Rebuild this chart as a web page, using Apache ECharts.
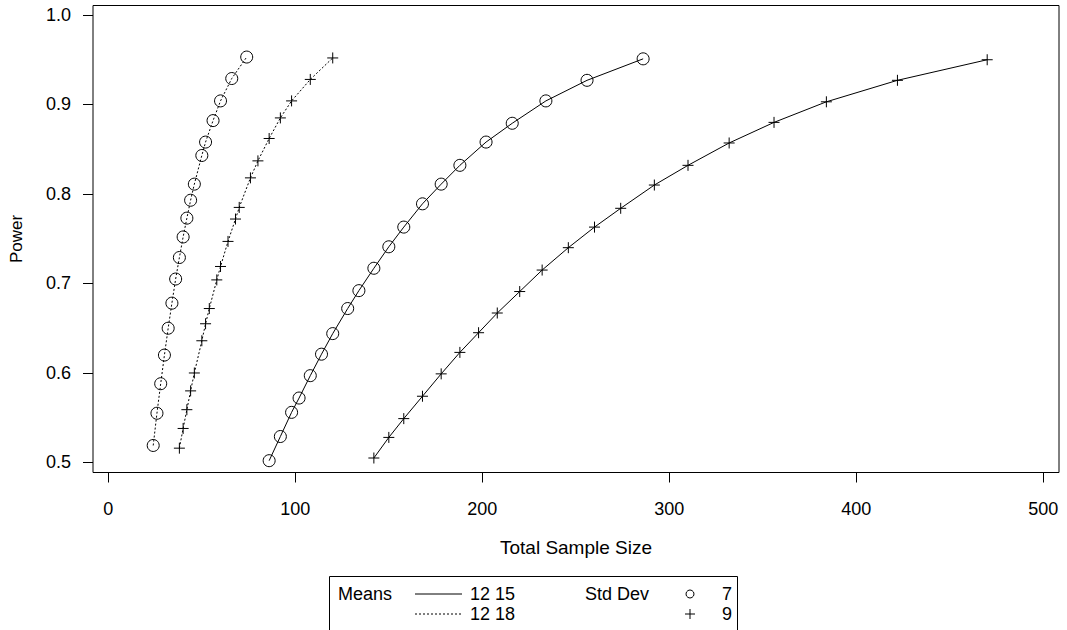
<!DOCTYPE html>
<html>
<head>
<meta charset="utf-8">
<script src="https://cdn.jsdelivr.net/npm/echarts@6/dist/echarts.min.js"></script>
<style>
  html, body { margin: 0; padding: 0; background: #fff; }
  #chart { width: 1067px; height: 630px; }
</style>
</head>
<body>
<div id="chart"></div>
<script>
// total sample size / power, one pair of arrays per curve
// Means 12 18, Std Dev 7
const nM18Sd7 = [24, 26, 28, 30, 32, 34, 36, 38, 40, 42, 44, 46, 50, 52, 56, 60, 66, 74];
const powM18Sd7 = [0.519, 0.555, 0.588, 0.620, 0.650, 0.678, 0.705, 0.729, 0.752, 0.773, 0.793, 0.811, 0.843, 0.858, 0.882, 0.904, 0.929, 0.953];
// Means 12 18, Std Dev 9
const nM18Sd9 = [38, 40, 42, 44, 46, 50, 52, 54, 58, 60, 64, 68, 70, 76, 80, 86, 92, 98, 108, 120];
const powM18Sd9 = [0.516, 0.538, 0.559, 0.580, 0.600, 0.636, 0.655, 0.672, 0.704, 0.719, 0.747, 0.772, 0.785, 0.818, 0.837, 0.862, 0.885, 0.904, 0.928, 0.952];
// Means 12 15, Std Dev 7
const nM15Sd7 = [86, 92, 98, 102, 108, 114, 120, 128, 134, 142, 150, 158, 168, 178, 188, 202, 216, 234, 256, 286];
const powM15Sd7 = [0.502, 0.529, 0.556, 0.572, 0.597, 0.621, 0.644, 0.672, 0.692, 0.717, 0.741, 0.763, 0.789, 0.811, 0.832, 0.858, 0.879, 0.904, 0.927, 0.951];
// Means 12 15, Std Dev 9
const nM15Sd9 = [142, 150, 158, 168, 178, 188, 198, 208, 220, 232, 246, 260, 274, 292, 310, 332, 356, 384, 422, 470];
const powM15Sd9 = [0.505, 0.528, 0.549, 0.574, 0.599, 0.623, 0.645, 0.667, 0.691, 0.715, 0.740, 0.763, 0.784, 0.810, 0.832, 0.857, 0.880, 0.903, 0.927, 0.950];

const xTicks = [0, 100, 200, 300, 400, 500];
const yTicks = [0.5, 0.6, 0.7, 0.8, 0.9, 1.0];

const FONT = '"Liberation Sans", Arial, sans-serif';
const PLUS = 'path://M0,5L10,5M5,0L5,10';

function pairs(xs, ys) {
  return xs.map((x, i) => [x, ys[i]]);
}

function curve(name, xs, ys, dotted, symbol, size) {
  return {
    name: name,
    type: 'line',
    data: pairs(xs, ys),
    symbol: symbol,
    symbolSize: size,
    showAllSymbol: true,
    smooth: false,
    lineStyle: { color: '#000', width: 1, type: dotted ? [2, 2] : 'solid' },
    itemStyle: { color: 'rgba(0,0,0,0)', borderColor: '#000', borderWidth: 1 },
    emphasis: { disabled: true },
    animation: false
  };
}

const chart = echarts.init(document.getElementById('chart'), null, { renderer: 'svg' });

const legendY1 = 594;
const legendY2 = 614;
const legendFont = 18;

function legendText(x, y, text) {
  return {
    type: 'text', x: x, y: y,
    style: { text: text, fontSize: legendFont, fontFamily: FONT, fill: '#000', verticalAlign: 'middle' }
  };
}

chart.setOption({
  backgroundColor: '#fff',
  textStyle: { fontFamily: FONT },
  grid: {
    left: 93, top: 5.5, width: 966, height: 467,
    show: true, borderColor: '#000', borderWidth: 1,
    containLabel: false
  },
  xAxis: {
    type: 'value',
    min: -8.2,
    max: 508.4,
    name: 'Total Sample Size',
    nameLocation: 'middle',
    nameGap: 65,
    nameMoveOverlap: false,
    nameTextStyle: { color: '#000', fontSize: 19, fontFamily: FONT },
    axisLine: { show: false, onZero: false },
    splitLine: { show: false },
    axisTick: { show: true, inside: false, length: 10, customValues: xTicks, lineStyle: { color: '#000' } },
    axisLabel: { color: '#000', fontSize: 18, fontFamily: FONT, margin: 27, customValues: xTicks }
  },
  yAxis: {
    type: 'value',
    min: 0.4888,
    max: 1.0106,
    name: 'Power',
    nameLocation: 'middle',
    nameGap: 68,
    nameMoveOverlap: false,
    nameTextStyle: { color: '#000', fontSize: 17, fontFamily: FONT },
    axisLine: { show: false, onZero: false },
    splitLine: { show: false },
    axisTick: { show: true, inside: false, length: 10, customValues: yTicks, lineStyle: { color: '#000' } },
    axisLabel: {
      color: '#000', fontSize: 18, fontFamily: FONT, margin: 22, customValues: yTicks,
      formatter: (v) => Number(v).toFixed(1)
    }
  },
  series: [
    curve('12 18 / 7', nM18Sd7, powM18Sd7, true, 'circle', 12),
    curve('12 18 / 9', nM18Sd9, powM18Sd9, true, PLUS, 11),
    curve('12 15 / 7', nM15Sd7, powM15Sd7, false, 'circle', 12),
    curve('12 15 / 9', nM15Sd9, powM15Sd9, false, PLUS, 11)
  ],
  // two-factor legend: line style = Means, marker = Std Dev
  graphic: [
    { type: 'rect', shape: { x: 329.5, y: 576.5, width: 408, height: 70 },
      style: { fill: 'none', stroke: '#000', lineWidth: 1 } },
    legendText(338, legendY1, 'Means'),
    { type: 'line', shape: { x1: 415, y1: legendY1, x2: 462, y2: legendY1 }, style: { stroke: '#000', lineWidth: 1 } },
    legendText(470, legendY1, '12 15'),
    { type: 'line', shape: { x1: 415, y1: legendY2, x2: 462, y2: legendY2 }, style: { stroke: '#000', lineWidth: 1, lineDash: [2, 2] } },
    legendText(470, legendY2, '12 18'),
    legendText(585, legendY1, 'Std Dev'),
    { type: 'circle', shape: { cx: 690, cy: legendY1, r: 4 }, style: { fill: 'none', stroke: '#000', lineWidth: 1 } },
    legendText(722, legendY1, '7'),
    { type: 'line', shape: { x1: 685, y1: legendY2, x2: 695, y2: legendY2 }, style: { stroke: '#000', lineWidth: 1 } },
    { type: 'line', shape: { x1: 690, y1: legendY2 - 5, x2: 690, y2: legendY2 + 5 }, style: { stroke: '#000', lineWidth: 1 } },
    legendText(722, legendY2, '9')
  ]
});
</script>
</body>
</html>
